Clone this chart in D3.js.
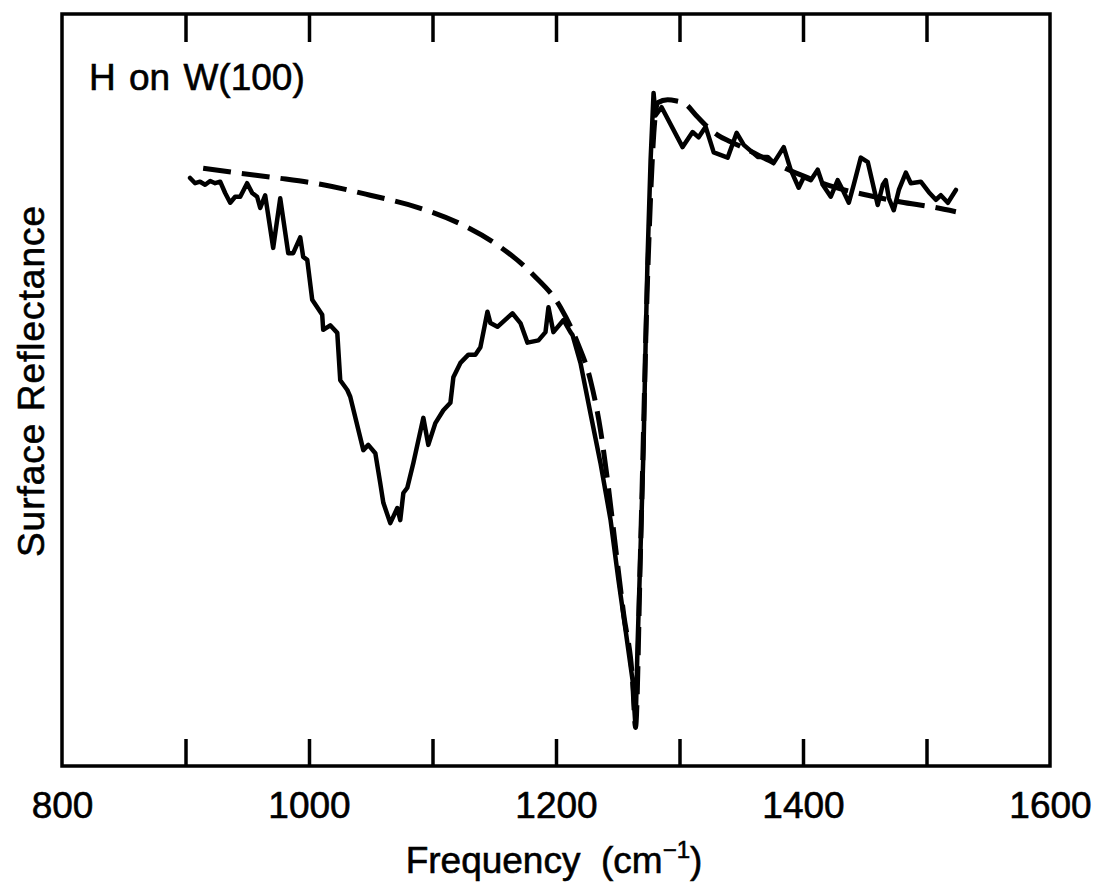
<!DOCTYPE html>
<html>
<head>
<meta charset="utf-8">
<script src="https://cdn.jsdelivr.net/npm/d3@7"></script>
<style>
  html, body { margin: 0; padding: 0; background: #fff; }
  svg { display: block; }
  text { font-family: "Liberation Sans", Arial, Helvetica, sans-serif; fill: #000; stroke: #000; stroke-width: 0.6px; }
</style>
</head>
<body>
<svg id="chart" width="1096" height="889"></svg>
<script>
// ---- Data ----
const measuredFreq = [903.7,907.8,911.8,915.9,920.0,924.0,928.1,932.1,936.2,940.2,944.3,949.9,954.0,958.0,960.5,964.5,971.0,976.7,983.2,987.2,992.9,995.3,998.6,1002.6,1010.7,1011.5,1017.2,1022.9,1025.3,1031.0,1033.4,1044.0,1048.0,1053.7,1057.7,1060.2,1065.8,1071.5,1073.9,1076.4,1079.6,1084.5,1092.6,1096.6,1102.3,1108.8,1114.5,1116.9,1122.6,1129.1,1134.7,1138.8,1144.5,1146.9,1152.6,1164.7,1171.2,1176.9,1185.8,1191.5,1193.9,1197.9,1206.1,1211.7,1213.4,1219.8,1227.9,1236.0,1244.2,1250.6,1256.3,1262.0,1264.4,1266.0,1268.5,1270.9,1272.5,1274.1,1276.6,1279.0,1280.6,1285.5,1302.5,1310.6,1315.5,1321.2,1327.7,1339.0,1346.3,1352.0,1363.3,1371.4,1376.3,1384.4,1390.0,1396.5,1400.6,1406.3,1411.9,1416.0,1422.5,1428.1,1432.2,1437.1,1441.1,1446.8,1452.5,1460.5,1464.6,1467.0,1469.5,1473.5,1477.6,1483.3,1487.3,1495.4,1501.9,1507.6,1511.6,1517.3,1523.8];
const measuredRefl = [78.2,77.5,77.7,77.3,77.8,77.5,77.7,76.2,74.9,75.7,75.7,77.5,76.2,75.7,74.2,75.9,68.9,75.5,68.2,68.2,70.3,67.7,67.3,62.0,60.0,58.0,58.6,57.6,51.3,50.0,49.1,42.0,42.7,41.6,37.6,35.0,32.3,34.3,32.7,36.3,37.0,40.3,46.3,42.7,45.6,47.3,48.3,51.7,53.6,54.7,54.7,55.7,60.4,58.9,58.4,60.2,58.9,56.3,56.6,57.7,61.0,57.7,59.3,57.7,57.3,53.6,46.9,40.3,32.7,24.7,18.1,11.4,5.1,15.8,29.1,42.4,55.7,67.3,80.6,89.5,86.5,87.6,82.3,84.3,83.6,85.0,81.6,80.9,84.2,82.6,81.0,81.0,80.2,82.3,79.3,76.9,78.3,77.9,79.3,77.3,75.7,77.9,76.6,74.9,77.3,80.9,80.3,74.6,77.3,77.9,75.5,73.9,76.6,78.9,77.5,77.7,76.3,75.3,75.9,74.9,76.6];

const fitFreq = [914.3,940.2,974.3,1011.5,1049.6,1087.7,1125.0,1155.0,1181.7,1203.6,1217.4,1227.9,1236.0,1241.7,1248.2,1254.7,1262.0,1264.4,1268.5,1274.1,1282.3,1290.4,1298.5,1303.3,1314.7,1321.2,1330.9,1341.4,1352.0,1376.3,1398.1,1424.9,1452.4,1479.2,1505.9,1523.8];
const fitRefl = [79.5,78.9,78.2,77.3,75.9,74.3,71.9,69.0,65.3,61.0,56.3,51.3,44.7,38.0,29.1,20.3,11.4,5.2,29.1,64.6,88.2,88.6,88.4,88.2,86.3,85.2,83.9,83.0,82.2,80.2,78.6,77.0,75.9,75.0,74.3,73.7];

const xTickValues = [900,1000,1100,1200,1300,1400,1500];
const xLabelValues = [800,1000,1200,1400,1600];
const xDomain = [800,1600];
const yDomain = [0,100];

const titleText = "H on W(100)";
const yLabelText = "Surface Reflectance";

// ---- Layout ----
const svg = d3.select("#chart");
const plotLeft = 62, plotRight = 1050, plotTop = 14, plotBottom = 766;

const x = d3.scaleLinear().domain(xDomain).range([plotLeft, plotRight]);
const y = d3.scaleLinear().domain(yDomain).range([plotBottom, plotTop]);

// frame
svg.append("rect")
  .attr("x", plotLeft).attr("y", plotTop)
  .attr("width", plotRight - plotLeft).attr("height", plotBottom - plotTop)
  .attr("fill", "none").attr("stroke", "#000").attr("stroke-width", 3.5);

// bottom ticks (inward)
const bottomAxis = d3.axisTop(x).tickValues(xTickValues).tickSize(27).tickFormat("");
const gb = svg.append("g").attr("transform", `translate(0,${plotBottom})`).call(bottomAxis);
gb.select(".domain").remove();
gb.selectAll(".tick line").attr("stroke", "#000").attr("stroke-width", 3.5);

// top ticks (inward)
const topAxis = d3.axisBottom(x).tickValues(xTickValues).tickSize(28).tickFormat("");
const gt = svg.append("g").attr("transform", `translate(0,${plotTop})`).call(topAxis);
gt.select(".domain").remove();
gt.selectAll(".tick line").attr("stroke", "#000").attr("stroke-width", 3.5);

// x labels
const labelAxis = d3.axisBottom(x).tickValues(xLabelValues).tickSize(0).tickPadding(0).tickFormat(d3.format("d"));
const gl = svg.append("g").attr("transform", `translate(0,${plotBottom})`).call(labelAxis);
gl.select(".domain").remove();
gl.selectAll(".tick line").remove();
gl.selectAll(".tick text")
  .attr("dy", null).attr("y", 52)
  .attr("font-size", 37)
  .attr("font-family", "'Liberation Sans', Arial, sans-serif")
  .attr("fill", "#000")
  .attr("stroke", "#000").attr("stroke-width", 0.6);

// x axis title with superscript
const xt = svg.append("text")
  .attr("x", 554).attr("y", 873)
  .attr("text-anchor", "middle")
  .attr("font-size", 37);
xt.append("tspan").text("Frequency\u00a0 (cm");
xt.append("tspan").text("\u22121").attr("font-size", 24).attr("dy", -15);
xt.append("tspan").text(")").attr("dy", 15);

// y axis title
svg.append("text")
  .attr("transform", "translate(44,381) rotate(-90)")
  .attr("text-anchor", "middle")
  .attr("font-size", 37)
  .attr("letter-spacing", 1)
  .text(yLabelText);

// in-plot label
svg.append("text")
  .attr("x", 89).attr("y", 90)
  .attr("font-size", 37)
  .attr("word-spacing", 3)
  .text(titleText);

// curves
const measured = measuredFreq.map((f, i) => [f, measuredRefl[i]]);
const fit = fitFreq.map((f, i) => [f, fitRefl[i]]);

const lineLinear = d3.line().x(d => x(d[0])).y(d => y(d[1]));
const lineSmooth = d3.line().x(d => x(d[0])).y(d => y(d[1])).curve(d3.curveMonotoneX);

svg.append("path")
  .datum(fit)
  .attr("d", lineSmooth)
  .attr("fill", "none")
  .attr("stroke", "#000")
  .attr("stroke-width", 5)
  .attr("stroke-dasharray", "28,11");

svg.append("path")
  .datum(measured)
  .attr("d", lineLinear)
  .attr("fill", "none")
  .attr("stroke", "#000")
  .attr("stroke-width", 4.5)
  .attr("stroke-linejoin", "round")
  .attr("stroke-linecap", "round");
</script>
</body>
</html>
